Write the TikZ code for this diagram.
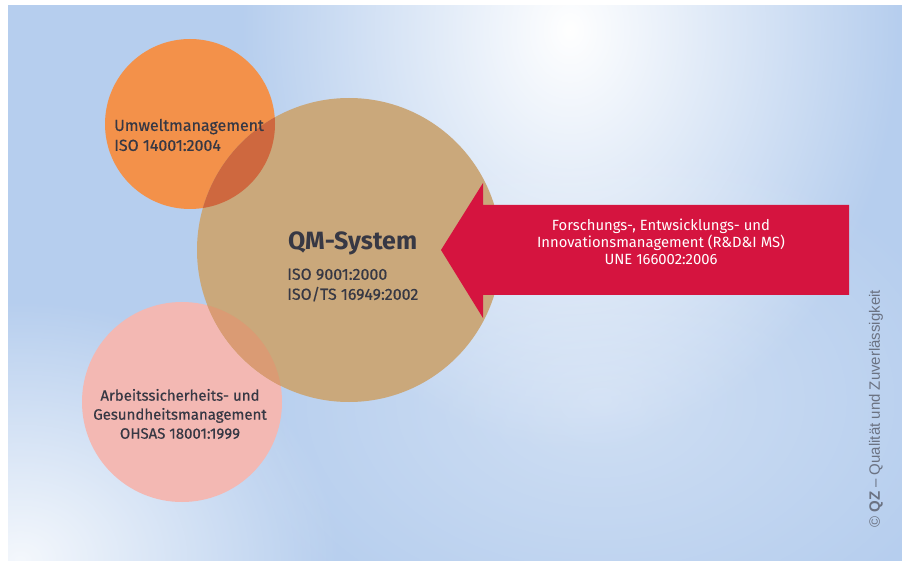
\documentclass[tikz,border=0pt]{standalone}
\usepackage{fontspec}
\setmainfont{Fira Sans}
\newfontfamily\medfont{Fira Sans}[FakeBold=0.5]
\newfontfamily\notefont{Liberation Sans}
\usetikzlibrary{fadings}

\definecolor{bgblue}{HTML}{B6CEEE}
\definecolor{envorange}{HTML}{F3914A}
\definecolor{qmtan}{HTML}{CAA87B}
\definecolor{ohspink}{HTML}{F3B8B3}
\definecolor{envqm}{HTML}{CE683F}
\definecolor{ohsqm}{HTML}{DA9B74}
\definecolor{rdred}{HTML}{D5143F}
\definecolor{inkgray}{HTML}{373844}
\definecolor{notegray}{HTML}{6B7282}

\tikzfading[name=softglow, inner color=transparent!0, outer color=transparent!100]

\tikzset{
  disc/.style={circle, inner sep=0pt, minimum size=#1},
  circtext/.style={text=inkgray, align=center, inner sep=0pt, font=\medfont\fontsize{16}{20}\selectfont},
}

\begin{document}
\begin{tikzpicture}[x=1pt,y=-1pt]
\useasboundingbox (0,0) rectangle (902,561);
\fill[white] (0,0) rectangle (902,561);

% light blue backdrop with soft bright patches
\begin{scope}
  \clip (8,5) rectangle (902,561);
  \fill[bgblue] (8,5) rectangle (902,561);
  \fill[white, path fading=softglow] (570,30) ellipse [x radius=330, y radius=420];
  \fill[white, path fading=softglow, opacity=0.85] (20,560) ellipse [x radius=320, y radius=260];
  \fill[white, path fading=softglow, opacity=0.35] (600,400) ellipse [x radius=380, y radius=260];
\end{scope}

% the three management system circles
\node[disc=170, fill=envorange] (env) at (190,124) {};
\node[disc=200, fill=ohspink] (ohs) at (182,402) {};
\node[disc=304, fill=qmtan] (qm) at (349,250) {};

% overlap regions
\begin{scope}
  \clip (qm.center) circle[radius=152];
  \fill[envqm] (env.center) circle[radius=85];
  \fill[ohsqm] (ohs.center) circle[radius=100];
\end{scope}

% arrow pointing into the QM system
\fill[rdred] (441,250) -- (483,183) -- (483,205) -- (849,205) -- (849,295)
  -- (483,295) -- (483,318) -- cycle;
\coordinate (tip) at (441,250);

% labels
\node[circtext, anchor=west, align=left] (envlbl) at (114,135)
  {Umweltmanagement\\ISO 14001:2004};
\node[text=inkgray, anchor=west, inner sep=0pt, font=\fontsize{25}{28}\selectfont\bfseries] (qmlbl) at (288,243) {QM-System};
\node[circtext, anchor=west, align=left] (qmstd) at (287,285)
  {ISO 9001:2000\\ISO/TS 16949:2002};
\node[circtext, font=\medfont\fontsize{15}{19}\selectfont] (ohslbl) at (180,414)
  {Arbeitssicherheits- und\\Gesundheitsmanagement\\OHSAS 18001:1999};
\node[text=white, align=center, inner sep=0pt, font=\fontsize{14.8}{16.8}\selectfont] (rdlbl) at (661,242)
  {Forschungs-, Entwsicklungs- und\\Innovationsmanagement (R\&D\&I MS)\\UNE 166002:2006};

% copyright line
\node[text=notegray, rotate=90, anchor=west, inner sep=0pt, font=\notefont\fontsize{15}{17}\selectfont] (copy) at (876,528)
  {© \textbf{QZ} – Qualität und Zuverlässigkeit};
\end{tikzpicture}
\end{document}
